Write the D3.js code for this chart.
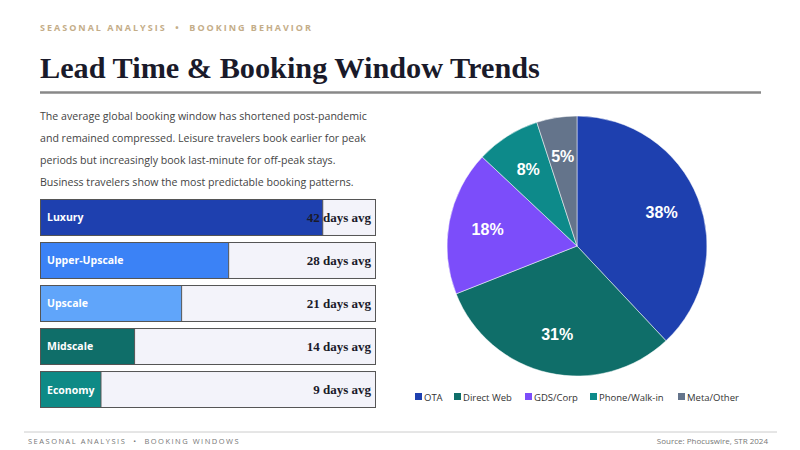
<!DOCTYPE html>
<html>
<head>
<meta charset="utf-8">
<script src="https://cdn.jsdelivr.net/npm/d3@7"></script>
<style>
  body { margin: 0; background: #fff; }
  svg { display: block; }
</style>
</head>
<body>
<svg id="chart" width="800" height="450"></svg>
<script>
// booking window by tier (days)
var tiers = ["Luxury", "Upper-Upscale", "Upscale", "Midscale", "Economy"];
var leadDays = [42, 28, 21, 14, 9];
var tierColors = ["#1e40af", "#3b82f6", "#60a5fa", "#0f6e69", "#0e8a86"];

// booking channel share (%)
var channels = ["OTA", "Direct Web", "GDS/Corp", "Phone/Walk-in", "Meta/Other"];
var channelShare = [38, 31, 18, 8, 5];
var channelColors = ["#1e40af", "#0f6e69", "#7c4dfa", "#0d8a8a", "#64748b"];

var introLines = [
	"The average global booking window has shortened post-pandemic",
	"and remained compressed. Leisure travelers book earlier for peak",
	"periods but increasingly book last-minute for off-peak stays.",
	"Business travelers show the most predictable booking patterns."
];

var svg = d3.select("#chart");
var sans = "'Open Sans', 'Noto Sans', sans-serif";
var serif = "'Liberation Serif', serif";

// header
svg.append("text")
	.attr("x", 40).attr("y", 31)
	.attr("fill", "#c4ad88")
	.attr("font-family", sans)
	.attr("font-size", 9)
	.attr("font-weight", 700)
	.attr("letter-spacing", 2.0)
	.attr("xml:space", "preserve")
	.text("SEASONAL ANALYSIS  \u2022  BOOKING BEHAVIOR");

var title = svg.append("text")
	.attr("x", 40).attr("y", 78)
	.attr("fill", "#1a1a2a")
	.attr("font-family", serif)
	.attr("font-size", 30)
	.attr("font-weight", 700)
	.text("Lead Time & Booking Window Trends");
// squeeze or stretch the title to the width seen in the reference
var tw = title.node().getComputedTextLength();
title.attr("font-size", 30 * 500 / tw);

svg.append("line")
	.attr("x1", 40).attr("x2", 761)
	.attr("y1", 92.5).attr("y2", 92.5)
	.attr("stroke", "#888").attr("stroke-width", 2.5);

// intro paragraph
svg.append("g").selectAll("text")
	.data(introLines)
	.join("text")
	.attr("x", 40)
	.attr("y", function (d, i) { return 120 + i * 22; })
	.attr("fill", "#444")
	.attr("font-family", sans)
	.attr("font-size", 10.6)
	.text(function (d) { return d; });

svg.append("line")
	.attr("x1", 40).attr("x2", 376)
	.attr("y1", 199.5).attr("y2", 199.5)
	.attr("stroke", "#555").attr("stroke-width", 1);

// bars
var x = d3.scaleLinear().domain([0, 50]).range([0, 336]);
var y = d3.scaleBand().domain(tiers).range([199, 408]).paddingInner(0.14).paddingOuter(0);

var rows = svg.append("g").attr("transform", "translate(40,0)")
	.selectAll("g")
	.data(tiers)
	.join("g")
	.attr("transform", function (d) { return "translate(0," + y(d) + ")"; });

rows.append("rect")
	.attr("x", 0.5).attr("y", 0.5)
	.attr("width", x(50) - 1)
	.attr("height", y.bandwidth() - 1)
	.attr("fill", "#f3f3fa")
	.attr("stroke", "#555");

rows.append("rect")
	.attr("x", 0.5).attr("y", 0.5)
	.attr("width", function (d, i) { return x(leadDays[i]); })
	.attr("height", y.bandwidth() - 1)
	.attr("fill", function (d, i) { return tierColors[i]; })
	.attr("stroke", "#555");

rows.append("text")
	.attr("x", 7)
	.attr("y", y.bandwidth() / 2 + 4)
	.attr("fill", "#fff")
	.attr("font-family", sans)
	.attr("font-size", 10.5)
	.attr("font-weight", 700)
	.text(function (d) { return d; });

rows.append("text")
	.attr("x", x(50) - 5)
	.attr("y", y.bandwidth() / 2 + 4.5)
	.attr("text-anchor", "end")
	.attr("fill", "#1a1a2a")
	.attr("font-family", serif)
	.attr("font-size", 13)
	.attr("font-weight", 700)
	.text(function (d, i) { return leadDays[i] + " days avg"; });

// pie
var radius = 130;
var pieG = svg.append("g").attr("transform", "translate(577,246)");
var pie = d3.pie().sort(null).value(function (d) { return d; });
var arc = d3.arc().innerRadius(0).outerRadius(radius);
var labelArc = d3.arc().innerRadius(radius * 0.7).outerRadius(radius * 0.7);
var slices = pie(channelShare);

pieG.selectAll("path")
	.data(slices)
	.join("path")
	.attr("d", arc)
	.attr("fill", function (d, i) { return channelColors[i]; })
	.attr("stroke", "#fff")
	.attr("stroke-width", 0.5);

pieG.selectAll("text")
	.data(slices)
	.join("text")
	.attr("transform", function (d) { return "translate(" + labelArc.centroid(d) + ")"; })
	.attr("dy", "0.35em")
	.attr("text-anchor", "middle")
	.attr("fill", "#fff")
	.attr("font-family", "'Liberation Sans', Arial, sans-serif")
	.attr("font-size", 16)
	.attr("font-weight", 700)
	.text(function (d) { return d.data + "%"; });

// legend
var legendX = [415, 454, 525, 590, 678];
var legend = svg.append("g").selectAll("g")
	.data(channels)
	.join("g")
	.attr("transform", function (d, i) { return "translate(" + legendX[i] + ",397)"; });

legend.append("rect")
	.attr("x", 0).attr("y", -4)
	.attr("width", 7).attr("height", 7)
	.attr("fill", function (d, i) { return channelColors[i]; });

legend.append("text")
	.attr("x", 9).attr("y", 3.5)
	.attr("fill", "#333")
	.attr("font-family", sans)
	.attr("font-size", 9.5)
	.text(function (d) { return d; });

// footer
svg.append("line")
	.attr("x1", 24).attr("x2", 777)
	.attr("y1", 432).attr("y2", 432)
	.attr("stroke", "#ccc").attr("stroke-width", 1);

svg.append("text")
	.attr("x", 28).attr("y", 444)
	.attr("fill", "#777")
	.attr("font-family", sans)
	.attr("font-size", 7.5)
	.attr("letter-spacing", 1.5)
	.attr("xml:space", "preserve")
	.text("SEASONAL ANALYSIS  \u2022  BOOKING WINDOWS");

svg.append("text")
	.attr("x", 768).attr("y", 444)
	.attr("text-anchor", "end")
	.attr("fill", "#777")
	.attr("font-family", sans)
	.attr("font-size", 8)
	.text("Source: Phocuswire, STR 2024");
</script>
</body>
</html>
